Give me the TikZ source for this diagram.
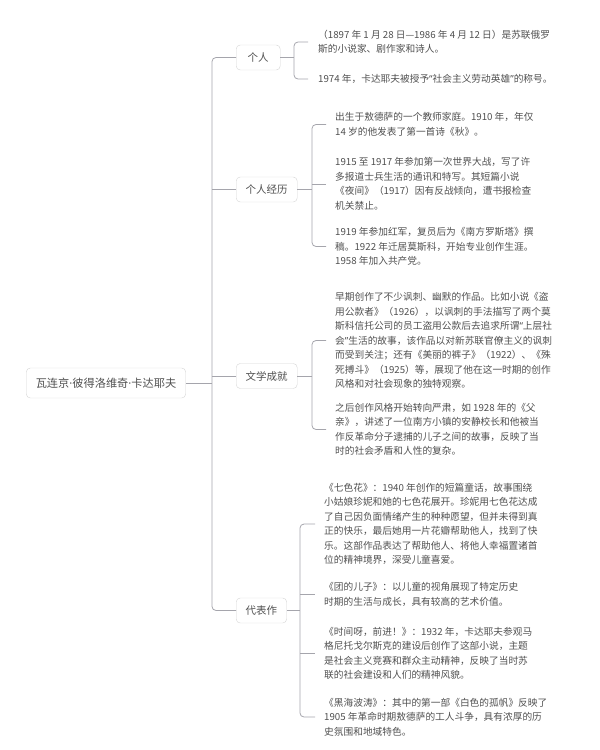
\documentclass[tikz,border=0pt]{standalone}
\usepackage{fontspec}
\newfontfamily\cjk{Noto Sans CJK SC}
\newfontfamily\latin{Noto Sans}
\definecolor{txt}{RGB}{80,80,80}
\definecolor{edge}{RGB}{165,165,172}
\definecolor{frame}{RGB}{212,212,212}
\newcommand{\middot}{{\latin ·}}
\newcommand{\openq}{{\latin “}}
\newcommand{\closeq}{{\latin ”}}
\begin{document}
\begin{tikzpicture}[x=1pt, y=-1pt,
  topic/.style={draw=frame, rounded corners=4pt, text=txt, font=\cjk\fontsize{10.5}{12}\selectfont, inner xsep=9.5pt, minimum height=25pt, minimum width=44pt, anchor=west},
  note/.style={text=txt, font=\cjk\fontsize{9.7}{14.5}\selectfont, align=left, inner sep=0pt, anchor=west},
  link/.style={draw=edge, line width=0.8pt, rounded corners=4pt}]
\useasboundingbox (0,0) rectangle (600,750);
\node[topic, anchor=center, minimum height=30pt, font=\cjk\fontsize{11.2}{13}\selectfont] (root) at (106,383) {瓦连京\middot 彼得洛维奇\middot 卡达耶夫};
\node[topic] (geren) at (236,57.5) {个人};
\node[topic] (jingli) at (236,189.5) {个人经历};
\node[topic] (chengjiu) at (236,376) {文学成就};
\node[topic] (daibiao) at (236,610.5) {代表作};
\coordinate (trunk) at (212,383);
\coordinate (gb) at (294,57.5);
\coordinate (jb) at (312,189.5);
\coordinate (cb) at (312,376);
\coordinate (db) at (300,610.5);
\node[note] (t11) at (318,42) {（1897 年 1 月 28 日—1986 年 4 月 12 日）是苏联俄罗\\斯的小说家、剧作家和诗人。};
\node[note] (t12) at (318,79) {1974 年，卡达耶夫被授予\openq 社会主义劳动英雄\closeq 的称号。};
\node[note] (t21) at (335,124.5) {出生于敖德萨的一个教师家庭。1910 年，年仅\\14 岁的他发表了第一首诗《秋》。};
\node[note] (t22) at (335,184) {1915 至 1917 年参加第一次世界大战，写了许\\多报道士兵生活的通讯和特写。其短篇小说\\《夜间》（1917）因有反战倾向，遭书报检查\\机关禁止。};
\node[note] (t23) at (335,246.5) {1919 年参加红军，复员后为《南方罗斯塔》撰\\稿。1922 年迁居莫斯科，开始专业创作生涯。\\1958 年加入共产党。};
\node[note] (t31) at (335,340.5) {早期创作了不少讽刺、幽默的作品。比如小说《盗\\用公款者》（1926），以讽刺的手法描写了两个莫\\斯科信托公司的员工盗用公款后去追求所谓\openq 上层社\\会\closeq 生活的故事，该作品以对新苏联官僚主义的讽刺\\而受到关注；还有《美丽的裤子》（1922）、《殊\\死搏斗》（1925）等，展现了他在这一时期的创作\\风格和对社会现象的独特观察。};
\node[note] (t32) at (335,429.5) {之后创作风格开始转向严肃，如 1928 年的《父\\亲》，讲述了一位南方小镇的安静校长和他被当\\作反革命分子逮捕的儿子之间的故事，反映了当\\时的社会矛盾和人性的复杂。};
\node[note] (t41) at (324,524) {《七色花》：1940 年创作的短篇童话，故事围绕\\小姑娘珍妮和她的七色花展开。珍妮用七色花达成\\了自己因负面情绪产生的种种愿望，但并未得到真\\正的快乐，最后她用一片花瓣帮助他人，找到了快\\乐。这部作品表达了帮助他人、将他人幸福置诸首\\位的精神境界，深受儿童喜爱。};
\node[note] (t42) at (324,594.5) {《团的儿子》：以儿童的视角展现了特定历史\\时期的生活与成长，具有较高的艺术价值。};
\node[note] (t43) at (324,653.5) {《时间呀，前进！》：1932 年，卡达耶夫参观马\\格尼托戈尔斯克的建设后创作了这部小说，主题\\是社会主义竞赛和群众主动精神，反映了当时苏\\联的社会建设和人们的精神风貌。};
\node[note] (t44) at (324,717) {《黑海波涛》：其中的第一部《白色的孤帆》反映了\\1905 年革命时期敖德萨的工人斗争，具有浓厚的历\\史氛围和地域特色。};
\draw[link] (root.east) -- (trunk);
\draw[link] (geren.west) -| (trunk) |- (daibiao.west);
\draw[link] (jingli.west) -- (trunk |- jingli.west);
\draw[link] (chengjiu.west) -- (trunk |- chengjiu.west);
\draw[link] (geren.east) -- (gb);
\draw[link] ([xshift=-10pt]t11.west) -| (gb) |- ([xshift=-10pt]t12.west);
\draw[link] (jingli.east) -- (jb);
\draw[link] ([xshift=-9pt]t21.west) -| (jb) |- ([xshift=-9pt]t23.west);
\draw[link] (jb |- t22.west) -- ([xshift=-9pt]t22.west);
\draw[link] (chengjiu.east) -- (cb);
\draw[link] ([xshift=-9pt]t31.west) -| (cb) |- ([xshift=-9pt]t32.west);
\draw[link] (daibiao.east) -- (db);
\draw[link] ([xshift=-9pt]t41.west) -| (db) |- ([xshift=-9pt]t44.west);
\draw[link] (db |- t42.west) -- ([xshift=-9pt]t42.west);
\draw[link] (db |- t43.west) -- ([xshift=-9pt]t43.west);
\end{tikzpicture}
\end{document}
